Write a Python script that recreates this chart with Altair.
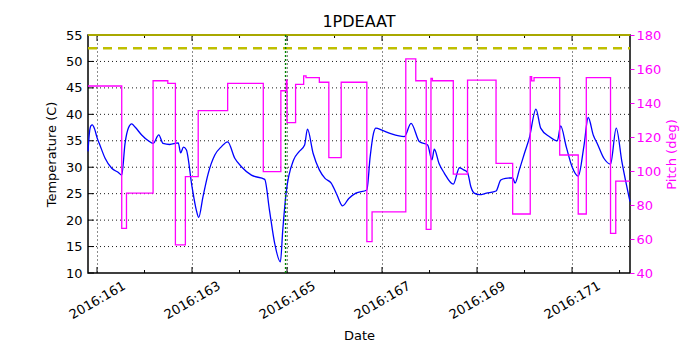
import altair as alt
import pandas as pd

# ---- data ----
temp_day = [160.81, 160.84, 160.87, 160.9, 160.95, 161.0, 161.06, 161.17, 161.31, 161.45, 161.52,
            161.59, 161.66, 161.73, 161.8, 161.94, 162.08, 162.18, 162.3, 162.39, 162.53, 162.71,
            162.76, 162.82, 162.88, 163.0, 163.09, 163.14, 163.23, 163.34, 163.48, 163.62, 163.75,
            163.9, 164.04, 164.25, 164.53, 164.63, 164.74, 164.86, 164.91, 164.98, 165.14, 165.25,
            165.37, 165.43, 165.55, 165.68, 165.8, 165.93, 166.05, 166.17, 166.3, 166.45, 166.68,
            166.75, 166.82, 166.87, 167.0, 167.2, 167.47, 167.61, 167.79, 167.96, 168.05, 168.1,
            168.2, 168.31, 168.5, 168.63, 168.72, 168.8, 168.87, 168.94, 169.05, 169.2, 169.4,
            169.5, 169.6, 169.75, 169.8, 169.89, 170.0, 170.1, 170.24, 170.34, 170.52, 170.69,
            170.76, 170.88, 171.0, 171.13, 171.25, 171.34, 171.45, 171.53, 171.67, 171.81, 171.93,
            172.05, 172.22]
temp_val = [33.0, 36.5, 37.8, 38.0, 37.2, 35.6, 34.2, 31.7, 29.8, 29.0, 28.5,
            34.5, 37.4, 38.2, 37.6, 36.1, 35.0, 34.5, 36.1, 34.5, 34.3, 34.6,
            32.7, 33.8, 33.3, 26.3, 21.9, 20.5, 24.4, 28.8, 32.3, 33.9, 34.8,
            31.7, 30.1, 28.5, 27.7, 21.9, 15.6, 12.1, 18.1, 25.1, 31.4, 32.9,
            34.2, 37.2, 32.6, 29.5, 27.9, 27.0, 24.8, 22.7, 24.1, 25.1, 25.7,
            32.0, 36.4, 37.4, 37.0, 36.3, 35.8, 38.3, 34.8, 34.2, 31.4, 33.4,
            30.7, 28.9, 26.8, 29.9, 29.5, 29.0, 26.3, 25.1, 24.8, 25.1, 25.5,
            27.6, 27.9, 28.0, 27.0, 29.5, 32.7, 35.5, 41.0, 37.4, 35.8, 35.0,
            37.8, 33.8, 30.1, 28.3, 34.0, 39.4, 36.0, 34.5, 31.7, 30.6, 37.4,
            31.0, 23.5]

pitch_day = [160.81, 161.52, 161.62, 162.18, 162.49, 162.65, 162.86, 163.13, 163.75, 164.5,
             164.87, 164.985, 165.0, 165.18, 165.35, 165.4, 165.68, 165.88, 166.14, 166.68,
             166.79, 167.5, 167.71, 167.93, 168.03, 168.06, 168.5, 168.8, 169.4, 169.75,
             170.12, 170.15, 170.2, 170.74, 171.13, 171.3, 171.81, 171.92, 172.22]
pitch_val = [150.0, 66.3, 87.0, 153.1, 151.6, 56.5, 96.7, 135.5, 151.6, 99.6,
             147.2, 153.5, 128.4, 151.0, 156.0, 154.9, 152.2, 107.9, 152.2, 58.4,
             76.0, 165.9, 153.1, 65.7, 154.5, 153.1, 98.2, 153.5, 104.5, 74.7,
             155.5, 153.0, 154.9, 109.4, 74.7, 154.9, 63.3, 94.1, 94.1]

limit_temps = [52.5]      # dashed yellow limit
top_limit = [55.0]        # solid yellow line at top
event_day = [164.97]      # green dotted marker

day_major = [161, 163, 165, 167, 169, 171]
day_minor = [162, 164, 166, 168, 170, 172]
temp_ticks = [10, 15, 20, 25, 30, 35, 40, 45, 50, 55]
temp_grid = [15, 20, 25, 30, 35, 40, 45, 50]
pitch_ticks = [40, 60, 80, 100, 120, 140, 160, 180]

W, H = 542, 238
FONT = "DejaVu Sans"
MAG = "#ff00ff"

temp_df = pd.DataFrame({"day": temp_day, "temp": temp_val})
pitch_df = pd.DataFrame({"day": pitch_day, "pitch": pitch_val})

X = alt.X("day:Q",
          scale=alt.Scale(domain=[160.81, 172.22], nice=False, zero=False),
          axis=alt.Axis(values=day_major, labelExpr="'2016:' + datum.value",
                        title="Date", ticks=False, domain=False,
                        grid=True, gridColor="black", gridDash=[1, 3], gridOpacity=0.9,
                        labelAngle=-30, labelAlign="center", labelBaseline="middle",
                        labelPadding=27, labelFontSize=13, labelColor="black",
                        titleFontSize=13, titleFontWeight="normal", titlePadding=8,
                        titleColor="black"))
Y = alt.Y("temp:Q",
          scale=alt.Scale(domain=[10, 55], nice=False, zero=False),
          axis=alt.Axis(values=temp_ticks, title="Temperature (C)", ticks=False, domain=False,
                        grid=False, labelPadding=6, labelFontSize=13, labelColor="black",
                        titleFontSize=13, titleFontWeight="normal", titleColor="black",
                        titlePadding=7))

temp_line = alt.Chart(temp_df).mark_line(color="#0000ff", strokeWidth=1.3,
                                         interpolate="monotone").encode(x=X, y=Y)

grid_df = pd.DataFrame({"temp": temp_grid})
hgrid = alt.Chart(grid_df).mark_rule(color="black", strokeDash=[1, 3], opacity=0.9,
                                     strokeWidth=1).encode(
    y=Y, x=alt.value(0), x2=alt.value(W))

lim_df = pd.DataFrame({"temp": limit_temps})
lim = alt.Chart(lim_df).mark_rule(color="#bfbf00", strokeDash=[9, 6],
                                  strokeWidth=2.5).encode(
    y=Y, x=alt.value(0), x2=alt.value(W))
top_df = pd.DataFrame({"temp": top_limit})
toplim = alt.Chart(top_df).mark_rule(color="#a8a800", strokeWidth=2).encode(
    y=Y, x=alt.value(0), x2=alt.value(W))

ev_df = pd.DataFrame({"day": event_day})
ev = alt.Chart(ev_df).mark_rule(color="#008000", strokeDash=[2, 2],
                                strokeWidth=1.5).encode(
    x=X, y=alt.value(0), y2=alt.value(H))

maj_df = pd.DataFrame({"day": day_major})
min_df = pd.DataFrame({"day": day_minor})
tick_kw = dict(color="black", strokeWidth=1)
xt_bot = alt.Chart(maj_df).mark_rule(**tick_kw).encode(x=X, y=alt.value(H), y2=alt.value(H - 6))
xt_top = alt.Chart(maj_df).mark_rule(**tick_kw).encode(x=X, y=alt.value(0), y2=alt.value(6))
xm_bot = alt.Chart(min_df).mark_rule(**tick_kw).encode(x=X, y=alt.value(H), y2=alt.value(H - 3))
xm_top = alt.Chart(min_df).mark_rule(**tick_kw).encode(x=X, y=alt.value(0), y2=alt.value(3))
yt_df = pd.DataFrame({"temp": temp_ticks})
yt_left = alt.Chart(yt_df).mark_rule(**tick_kw).encode(y=Y, x=alt.value(0), x2=alt.value(6))

left_layer = alt.layer(hgrid, xt_bot, xt_top, xm_bot, xm_top, yt_left,
                       temp_line, lim, toplim, ev)

pitch_line = alt.Chart(pitch_df).mark_line(color=MAG, strokeWidth=1.3,
                                           interpolate="step-after").encode(
    x=X,
    y=alt.Y("pitch:Q",
            scale=alt.Scale(domain=[40, 180], nice=False, zero=False),
            axis=alt.Axis(orient="right", values=pitch_ticks, title="Pitch (deg)",
                          domain=False, grid=False, ticks=True, tickColor=MAG, tickSize=4,
                          labelColor=MAG, labelFontSize=13, labelPadding=2,
                          titleColor=MAG, titleFontSize=13, titleFontWeight="normal",
                          titleAngle=270, titlePadding=18)))

chart = alt.layer(left_layer, pitch_line).resolve_scale(y="independent").properties(
    width=W, height=H,
    title=alt.TitleParams("1PDEAAT", font=FONT, fontSize=16, fontWeight="normal",
                          color="black", offset=7, frame="group", dy=8),
    autosize=alt.AutoSizeParams(type="none"),
    padding={"left": 80, "top": 27, "right": 62, "bottom": 69},
).configure_view(stroke="black", strokeWidth=1.5).configure_axis(
    labelFont=FONT, titleFont=FONT).configure_title(font=FONT)

chart.save("out.html", embed_options={"renderer": "svg", "actions": False})
